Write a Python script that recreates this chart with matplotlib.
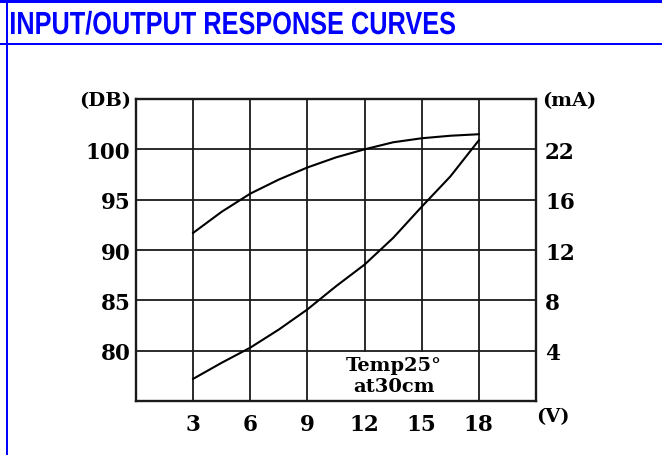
import matplotlib
matplotlib.use('Agg')
import matplotlib.pyplot as plt
from matplotlib.patches import Rectangle, PathPatch
from matplotlib.textpath import TextPath
from matplotlib.font_manager import FontProperties
from matplotlib.transforms import Affine2D

# voltage (V)
volts = [3, 4.5, 6, 7.5, 9, 10.5, 12, 13.5, 15, 16.5, 18]
# sound level curve, read on the dB scale
spl_db = [91.7, 93.8, 95.6, 97.0, 98.2, 99.2, 100.0, 100.7, 101.1, 101.35, 101.5]
# current curve, read in the position of the left (dB) scale
current_pos = [77.2, 78.8, 80.3, 82.1, 84.1, 86.4, 88.55, 91.2, 94.3, 97.3, 100.9]

x_ticks = [3, 6, 9, 12, 15, 18]
y_ticks = [80, 85, 90, 95, 100]
ma_labels = ['4', '8', '12', '16', '22']
title = 'INPUT/OUTPUT RESPONSE CURVES'

blue = '#0000ff'
num_font = 'DejaVu Serif'

fig = plt.figure(figsize=(6.62, 4.56), dpi=100)
W, H = 662, 456

# blue frame of the page
fig.add_artist(Rectangle((0, 1 - 4 / H), 1, 4 / H, transform=fig.transFigure,
                         color=blue, lw=0))
fig.add_artist(Rectangle((0, 1 - 46 / H), 1, 2.5 / H, transform=fig.transFigure,
                         color=blue, lw=0))
fig.add_artist(Rectangle((5.5 / W, 0), 2.5 / W, 1, transform=fig.transFigure,
                         color=blue, lw=0))

# condensed bold title (no narrow font installed, so squeeze the glyph path)
tp = TextPath((0, 0), title, size=32,
              prop=FontProperties(family='Liberation Sans', weight='bold'))
ext = tp.get_extents()
sx = 444 / ext.width
tr = Affine2D().translate(-ext.x0, 0).scale(sx / W, 1 / H).translate(11 / W, 1 - 35 / H)
fig.add_artist(PathPatch(tp, transform=tr + fig.transFigure, facecolor=blue,
                         edgecolor='none'))

ax = fig.add_axes([136 / W, 54 / H, 400 / W, 302 / H])
ax.set_xlim(0, 21)
ax.set_ylim(75, 105)

for v in x_ticks:
    ax.axvline(v, color='#1a1a1a', lw=1.3, zorder=1)
for d in y_ticks:
    ax.axhline(d, color='#1a1a1a', lw=1.3, zorder=1)

ax.plot(volts, spl_db, color='black', lw=1.5, zorder=3)
ax.plot(volts, current_pos, color='black', lw=1.5, zorder=3)

# white area behind the note
ax.add_patch(Rectangle((10.3, 75), 6.9, 4.85, facecolor='white', edgecolor='none',
                       zorder=2))
ax.text(13.55, 77.55, 'Temp25°\nat30cm', ha='center', va='center',
        multialignment='center', family=num_font, weight='bold', fontsize=14,
        linespacing=1.2, zorder=4)

for s in ax.spines.values():
    s.set_linewidth(1.7)
    s.set_color('#1a1a1a')

ax.set_xticks(x_ticks)
ax.set_xticklabels([str(v) for v in x_ticks], family=num_font, weight='bold',
                   fontsize=15.5)
ax.set_yticks(y_ticks)
ax.set_yticklabels([str(d) for d in y_ticks], family=num_font, weight='bold',
                   fontsize=15.5)
ax.tick_params(axis='x', length=0, pad=9)
ax.tick_params(axis='y', length=0, pad=4)

ax2 = ax.twinx()
ax2.set_ylim(ax.get_ylim())
ax2.set_yticks(y_ticks)
ax2.set_yticklabels(ma_labels, family=num_font, weight='bold', fontsize=15.5)
ax2.tick_params(axis='y', length=0, pad=6.5)
for s in ax2.spines.values():
    s.set_visible(False)

fig.text(105 / W, 1 - 101 / H, '(DB)', family=num_font, weight='bold',
         fontsize=14, ha='center', va='center')
fig.text(569 / W, 1 - 101 / H, '(mA)', family=num_font, weight='bold',
         fontsize=14, ha='center', va='center')
fig.text(553 / W, 1 - 417 / H, '(V)', family=num_font, weight='bold',
         fontsize=14, ha='center', va='center')

fig.savefig('out.png', dpi=100)
